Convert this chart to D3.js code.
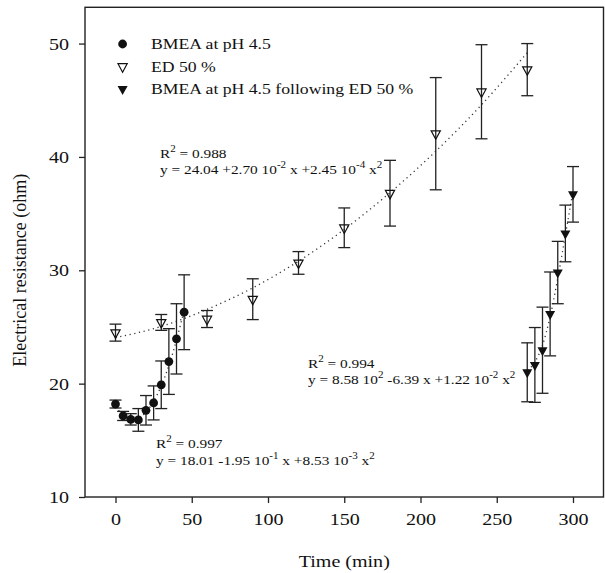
<!DOCTYPE html>
<html>
<head>
<meta charset="utf-8">
<script src="https://cdn.jsdelivr.net/npm/d3@7"></script>
<style>
  body { margin: 0; background: #fff; }
  svg { display: block; font-family: 'Liberation Serif', 'Times New Roman', serif; }
  text { white-space: pre; fill: #111; }
</style>
</head>
<body>
<svg id="chart" width="605" height="573"></svg>
<script>
'use strict'

// BMEA at pH 4.5
const bmeaTime = [0, 5, 10, 15, 20, 25, 30, 35, 40, 45]
const bmeaValue = [18.2, 17.15, 16.85, 16.8, 17.65, 18.3, 19.9, 21.95, 23.95, 26.3]
const bmeaError = [0.35, 0.4, 0.5, 1.0, 1.3, 1.5, 2.1, 2.9, 3.1, 3.3]
const bmeaFit = [18.0, 17.25, 16.9, 17.0, 17.5, 18.45, 19.8, 21.6, 23.85, 26.5]

// ED 50 %
const edTime = [0, 30, 60, 90, 120, 150, 180, 210, 240, 270]
const edValue = [24.5, 25.4, 25.7, 27.45, 30.65, 33.75, 36.8, 42.05, 45.75, 47.7]
const edError = [0.75, 0.7, 0.75, 1.8, 1.0, 1.75, 2.9, 4.95, 4.15, 2.3]
const edFit = [24.05, 25.05, 26.55, 28.45, 30.8, 33.6, 36.85, 40.5, 44.6, 49.2]

// BMEA at pH 4.5 following ED 50 %
const afterTime = [270, 275, 280, 285, 290, 295, 300]
const afterValue = [21.0, 21.65, 22.95, 26.15, 29.8, 33.25, 36.7]
const afterError = [2.6, 3.3, 3.8, 3.7, 2.75, 2.5, 2.45]
const afterFit = [21.2, 21.9, 23.4, 25.9, 29.3, 33.1, 37.0]

const xTicks = [0, 50, 100, 150, 200, 250, 300]
const yTicks = [10, 20, 30, 40, 50]
const legendLabels = ['BMEA at pH 4.5', 'ED 50 %', 'BMEA at pH 4.5 following ED 50 %']

const annotations = [
  { x: 160, y: 158, parts: ['R', ['2'], ' = 0.988'] },
  { x: 160, y: 174, parts: ['y = 24.04 +2.70 10', ['-2'], ' x +2.45 10', ['-4'], ' x', ['2']] },
  { x: 308, y: 368, parts: ['R', ['2'], ' = 0.994'] },
  { x: 308, y: 384, parts: ['y = 8.58 10', ['2'], ' -6.39 x +1.22 10', ['-2'], ' x', ['2']] },
  { x: 156, y: 448, parts: ['R', ['2'], ' = 0.997'] },
  { x: 156, y: 465, parts: ['y = 18.01 -1.95 10', ['-1'], ' x +8.53 10', ['-3'], ' x', ['2']] }
]

const SX = 1.18 // glyphs in the figure are a bit wider than Times
const ink = '#111'

const svg = d3.select('#chart')

const x = d3.scaleLinear().domain([-20, 320]).range([85, 603.5])
const y = d3.scaleLinear().domain([10, 53.2]).range([497, 7.3])

function zip (ts, vs, es) {
  return ts.map(function (t, i) { return { t: t, v: vs[i], e: es ? es[i] : 0 } })
}

function richText (parent, px, py, parts, size, anchor) {
  const t = parent.append('text')
    .attr('transform', 'translate(' + px + ',' + py + ') scale(' + SX + ',1)')
    .attr('font-size', size)
    .attr('text-anchor', anchor || 'start')
  let raised = false
  parts.forEach(function (p) {
    const sup = Array.isArray(p)
    const s = t.append('tspan').text(sup ? p[0] : p)
    if (sup) {
      s.attr('font-size', size * 0.72)
      if (!raised) s.attr('dy', -size * 0.45)
      raised = true
    } else if (raised) {
      s.attr('dy', size * 0.45)
      raised = false
    }
  })
  return t
}

function triDown (cx, cy, w, h) {
  return 'M' + (cx - w) + ',' + (cy - h / 3) + 'L' + (cx + w) + ',' + (cy - h / 3) +
    'L' + cx + ',' + (cy + h * 2 / 3) + 'Z'
}

// frame
svg.append('rect')
  .attr('x', x.range()[0])
  .attr('y', y.range()[1])
  .attr('width', x.range()[1] - x.range()[0])
  .attr('height', y.range()[0] - y.range()[1])
  .attr('fill', 'none')
  .attr('stroke', '#222')
  .attr('stroke-width', 1.4)

// dotted regression curves
const fitLine = d3.line()
  .x(function (d) { return x(d.t) })
  .y(function (d) { return y(d.v) })
  .curve(d3.curveMonotoneX)

;[zip(bmeaTime, bmeaFit), zip(edTime, edFit), zip(afterTime, afterFit)].forEach(function (pts) {
  svg.append('path')
    .datum(pts)
    .attr('d', fitLine)
    .attr('fill', 'none')
    .attr('stroke', '#333')
    .attr('stroke-width', 1.3)
    .attr('stroke-dasharray', '1.2,3.6')
})

// error bars
const allSeries = [zip(bmeaTime, bmeaValue, bmeaError), zip(edTime, edValue, edError), zip(afterTime, afterValue, afterError)]
const cap = 6
allSeries.forEach(function (pts) {
  const g = svg.append('g')
    .attr('stroke', '#222')
    .attr('stroke-width', 1.3)
  const bars = g.selectAll('g')
    .data(pts)
    .enter()
    .append('g')
  bars.append('line')
    .attr('x1', function (d) { return x(d.t) })
    .attr('x2', function (d) { return x(d.t) })
    .attr('y1', function (d) { return y(d.v + d.e) })
    .attr('y2', function (d) { return y(d.v - d.e) })
  bars.append('line')
    .attr('x1', function (d) { return x(d.t) - cap })
    .attr('x2', function (d) { return x(d.t) + cap })
    .attr('y1', function (d) { return y(d.v + d.e) })
    .attr('y2', function (d) { return y(d.v + d.e) })
  bars.append('line')
    .attr('x1', function (d) { return x(d.t) - cap })
    .attr('x2', function (d) { return x(d.t) + cap })
    .attr('y1', function (d) { return y(d.v - d.e) })
    .attr('y2', function (d) { return y(d.v - d.e) })
})

// markers
svg.append('g')
  .selectAll('circle')
  .data(allSeries[0])
  .enter()
  .append('circle')
  .attr('cx', function (d) { return x(d.t) })
  .attr('cy', function (d) { return y(d.v) })
  .attr('r', 4.4)
  .attr('fill', ink)

svg.append('g')
  .selectAll('path')
  .data(allSeries[1])
  .enter()
  .append('path')
  .attr('d', function (d) { return triDown(x(d.t), y(d.v), 4.6, 8.5) })
  .attr('fill', 'none')
  .attr('stroke', ink)
  .attr('stroke-width', 1.2)

svg.append('g')
  .selectAll('path')
  .data(allSeries[2])
  .enter()
  .append('path')
  .attr('d', function (d) { return triDown(x(d.t), y(d.v), 5, 9) })
  .attr('fill', ink)

// legend
const legend = svg.append('g')
const legendX = 122.6
const legendY = [44, 66.5, 89]
legend.append('circle')
  .attr('cx', legendX)
  .attr('cy', legendY[0])
  .attr('r', 4.4)
  .attr('fill', ink)
legend.append('path')
  .attr('d', triDown(legendX, legendY[1], 4.6, 8.5))
  .attr('fill', 'none')
  .attr('stroke', ink)
  .attr('stroke-width', 1.2)
legend.append('path')
  .attr('d', triDown(legendX, legendY[2], 5, 9))
  .attr('fill', ink)
legendLabels.forEach(function (l, i) {
  richText(legend, 151, legendY[i] + 5.3, [l], 15)
})

// equations
const notes = svg.append('g')
annotations.forEach(function (a) {
  richText(notes, a.x, a.y, a.parts, 13)
})

// axes
const xAxis = svg.append('g')
  .attr('transform', 'translate(0,' + y.range()[0] + ')')
  .call(d3.axisBottom(x).tickValues(xTicks).tickSize(6).tickSizeOuter(0).tickPadding(10))
const yAxis = svg.append('g')
  .attr('transform', 'translate(' + x.range()[0] + ',0)')
  .call(d3.axisLeft(y).tickValues(yTicks).tickSize(6).tickSizeOuter(0))

;[xAxis, yAxis].forEach(function (ax) {
  ax.select('.domain').remove()
  ax.selectAll('.tick line').attr('stroke', '#222').attr('stroke-width', 1.3)
  ax.selectAll('.tick text')
    .attr('font-family', "'Liberation Serif', 'Times New Roman', serif")
    .attr('font-size', 17)
    .attr('fill', ink)
})
xAxis.selectAll('.tick text')
  .attr('transform', 'scale(' + SX + ',1)')
yAxis.selectAll('.tick text')
  .attr('x', -16 / SX)
  .attr('transform', 'scale(' + SX + ',1)')

// axis titles
richText(svg, (x.range()[0] + x.range()[1]) / 2, 567, ['Time (min)'], 17, 'middle')
svg.append('text')
  .attr('transform', 'translate(26,' + y(30) + ') rotate(-90)')
  .attr('text-anchor', 'middle')
  .attr('font-size', 18)
  .text('Electrical resistance (ohm)')
</script>
</body>
</html>
